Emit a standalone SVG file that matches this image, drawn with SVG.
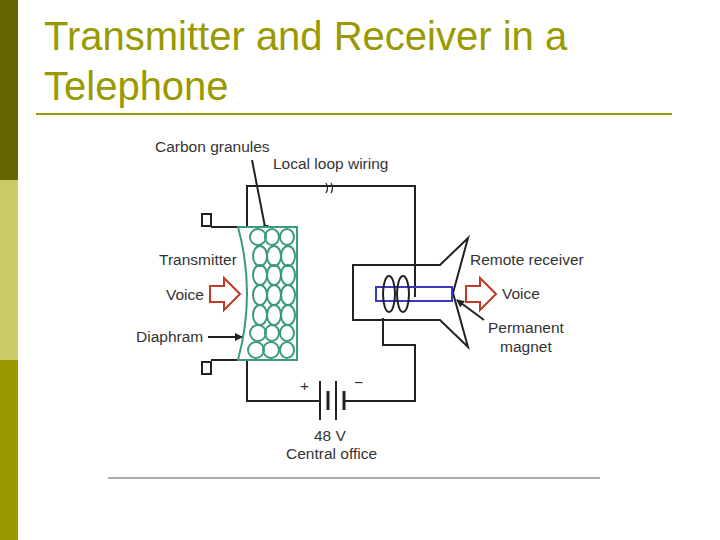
<svg xmlns="http://www.w3.org/2000/svg" width="720" height="540" viewBox="0 0 720 540">
<style>
.w{fill:none;stroke:#222;stroke-width:2}
.t{font-family:"Liberation Sans",Arial,sans-serif;font-size:15.5px;fill:#333}
.g{fill:none;stroke:#3a9a7a;stroke-width:2}
.r{fill:#fff;stroke:#c0392b;stroke-width:2}
</style>
<defs><marker id="a" markerWidth="8" markerHeight="8" refX="7" refY="4" orient="auto" markerUnits="userSpaceOnUse"><path d="M0,0 L8,4 L0,8 z" fill="#222"/></marker></defs>
<rect width="720" height="540" fill="#fff"/>
<rect x="0" y="0" width="18" height="180" fill="#666600"/>
<rect x="0" y="180" width="18" height="180" fill="#cccc66"/>
<rect x="0" y="360" width="18" height="180" fill="#999900"/>
<text x="44" y="50" font-family="Liberation Sans,Arial,sans-serif" font-size="40" fill="#999900">Transmitter and Receiver in a</text>
<text x="44" y="100" font-family="Liberation Sans,Arial,sans-serif" font-size="40" fill="#999900">Telephone</text>
<line x1="36" y1="114" x2="672" y2="114" stroke="#999900" stroke-width="2"/>
<line x1="108" y1="478" x2="600" y2="478" stroke="#555" stroke-width="1"/>
<g id="connectors">
<path class="w" d="M247,227 V186 H415 V297"/>
<path class="w" d="M247,360 V401 H320 M344,401 H415 V345 H383 V318"/>
<path d="M326,183 q3,5 0,10 M331,183 q3,5 0,10" fill="none" stroke="#222" stroke-width="1.2"/>
<path class="w" d="M252,160 L266,232" marker-end="url(#a)" stroke-width="1.5"/>
<path class="w" d="M208,337 L242,337" marker-end="url(#a)" stroke-width="1.5"/>
<path class="w" d="M484,320 L457,300" marker-end="url(#a)" stroke-width="1.5"/>
</g>
<g id="transmitter">
<rect x="202" y="214" width="9" height="12" fill="#fff" stroke="#222" stroke-width="2"/>
<rect x="202" y="362" width="9" height="12" fill="#fff" stroke="#222" stroke-width="2"/>
<path class="w" d="M211,227 H238 M211,360 H238"/>
<path d="M238,227 H297 V360 H238 Q256,293 238,227 Z" fill="#fff" stroke="#3a9a7a" stroke-width="2"/>
<g class="g">
<ellipse cx="258" cy="237" rx="8" ry="8"/><ellipse cx="272" cy="237" rx="7" ry="8"/><ellipse cx="287" cy="237" rx="7" ry="8"/>
<ellipse cx="260" cy="256" rx="7" ry="10"/><ellipse cx="274" cy="256" rx="7" ry="10"/><ellipse cx="288" cy="256" rx="7" ry="10"/>
<ellipse cx="260" cy="275" rx="7" ry="10"/><ellipse cx="274" cy="275" rx="7" ry="10"/><ellipse cx="288" cy="275" rx="7" ry="10"/>
<ellipse cx="260" cy="295" rx="7" ry="10"/><ellipse cx="274" cy="295" rx="7" ry="10"/><ellipse cx="288" cy="295" rx="7" ry="10"/>
<ellipse cx="260" cy="315" rx="7" ry="10"/><ellipse cx="274" cy="315" rx="7" ry="10"/><ellipse cx="288" cy="315" rx="7" ry="10"/>
<ellipse cx="258" cy="333" rx="8" ry="8"/><ellipse cx="272" cy="333" rx="7" ry="8"/><ellipse cx="287" cy="333" rx="7" ry="8"/>
<ellipse cx="256" cy="350" rx="8" ry="8"/><ellipse cx="271" cy="350" rx="8" ry="8"/><ellipse cx="287" cy="350" rx="7" ry="8"/>
</g>
<path class="r" d="M210,286 H224 V278 L240,294 L224,310 V302 H210 Z"/>
</g>
<g id="receiver">
<path class="w" d="M415,265 H353 V320 H440 L468,347 L453,293 L468,238 L440,265 H415"/>
<rect x="376" y="287" width="76" height="14" fill="none" stroke="#3a3ac0" stroke-width="2"/>
<ellipse cx="389" cy="294" rx="6" ry="18" class="w" stroke-width="1.5"/>
<ellipse cx="403" cy="294" rx="6" ry="18" class="w" stroke-width="1.5"/>
<path class="r" d="M466,286 H480 V278 L496,294 L480,310 V302 H466 Z"/>
</g>
<g id="battery">
<path class="w" d="M320,381 V420 M336,381 V420"/>
<path d="M328,391 V410 M344,391 V410" stroke="#222" stroke-width="3"/>
<text x="300" y="391" class="t">+</text><text x="354" y="388" class="t">−</text>
</g>
<g id="labels" class="t">
<text x="155" y="152">Carbon granules</text>
<text x="273" y="169">Local loop wiring</text>
<text x="159" y="265">Transmitter</text>
<text x="166" y="300">Voice</text>
<text x="136" y="342">Diaphram</text>
<text x="470" y="265">Remote receiver</text>
<text x="502" y="299">Voice</text>
<text x="488" y="333">Permanent</text>
<text x="500" y="352">magnet</text>
<text x="314" y="441">48 V</text>
<text x="286" y="459">Central office</text>
</g>
</svg>
